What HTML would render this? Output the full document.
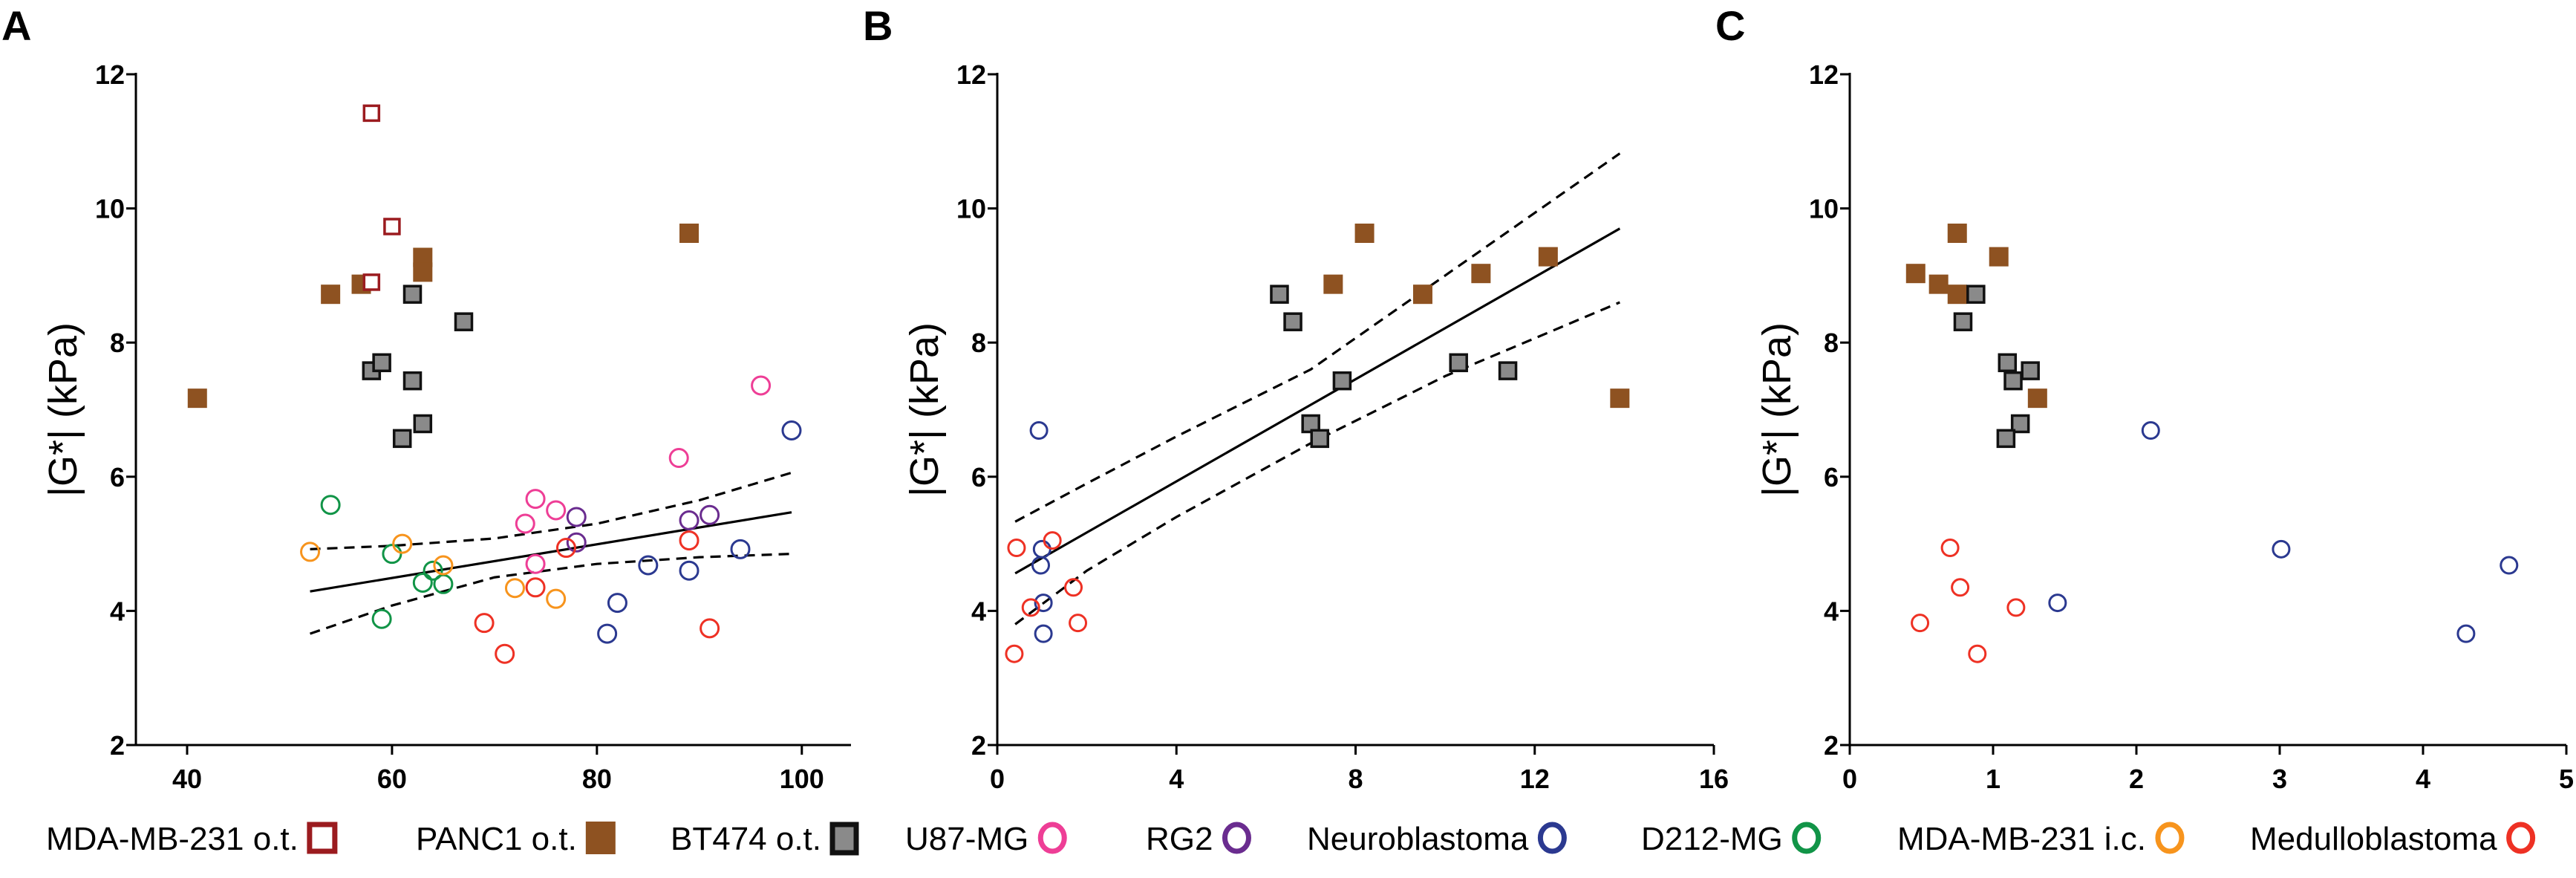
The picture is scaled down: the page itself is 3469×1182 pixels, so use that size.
<!DOCTYPE html>
<html><head><meta charset="utf-8"><style>
html,body{margin:0;padding:0;background:#fff;}
svg{display:block;font-family:"Liberation Sans",Arial,sans-serif;}
</style></head><body>
<svg id="fig" width="3469" height="1182" viewBox="0 0 3469 1182" xmlns="http://www.w3.org/2000/svg"></svg>
<script>
// ---------- data ----------
const seriesNames = ["MDA-MB-231 o.t.","PANC1 o.t.","BT474 o.t.","U87-MG","RG2","Neuroblastoma","D212-MG","MDA-MB-231 i.c.","Medulloblastoma"];
// Panel A (x: 35-105)
const aMdaOtX=[58,60,58]; const aMdaOtY=[11.42,9.73,8.9];
const aPancX=[41,54,57,63,63,89]; const aPancY=[7.17,8.72,8.87,9.27,9.05,9.63];
const aBtX=[62,67,58,59,62,61,63]; const aBtY=[8.72,8.31,7.58,7.7,7.43,6.57,6.79];
const aU87X=[73,74,76,74,88,96]; const aU87Y=[5.3,5.67,5.5,4.7,6.28,7.36];
const aRg2X=[78,78,89,91]; const aRg2Y=[5.4,5.02,5.35,5.43];
const aNeuX=[85,89,82,81,94,99]; const aNeuY=[4.68,4.6,4.12,3.66,4.92,6.69];
const aD212X=[54,60,64,63,65,59]; const aD212Y=[5.58,4.85,4.6,4.42,4.4,3.88];
const aMdaIcX=[52,61,65,72,76]; const aMdaIcY=[4.88,5.0,4.68,4.34,4.18];
const aMedX=[77,74,69,71,89,91]; const aMedY=[4.94,4.35,3.82,3.36,5.05,3.74];
const aFitX=[52,99]; const aFitY=[4.29,5.47];
const aCiX=[52,60,70,80,90,99]; const aCiUp=[4.92,4.97,5.08,5.3,5.65,6.06]; const aCiLo=[3.66,4.08,4.5,4.7,4.8,4.85];
// Panel B (x: 0-16)
const bPancX=[8.2,7.5,9.5,10.8,12.3,13.9]; const bPancY=[9.63,8.87,8.72,9.03,9.28,7.17];
const bBtX=[6.3,6.6,7.7,7.0,7.2,10.3,11.4]; const bBtY=[8.72,8.31,7.43,6.79,6.57,7.7,7.58];
const bNeuX=[0.93,1.0,0.97,1.03,1.03]; const bNeuY=[6.69,4.92,4.68,4.12,3.66];
const bMedX=[0.43,1.23,0.75,1.7,1.8,0.38]; const bMedY=[4.94,5.05,4.05,4.35,3.82,3.36];
const bFitX=[0.4,13.9]; const bFitY=[4.56,9.7];
const bCiX=[0.4,2,4,7,10,13.9]; const bCiUp=[5.33,5.9,6.6,7.6,9.0,10.82]; const bCiLo=[3.8,4.6,5.4,6.5,7.5,8.6];
// Panel C (x: 0-5)
const cPancX=[0.46,0.62,0.75,0.75,1.04,1.31]; const cPancY=[9.03,8.87,9.63,8.72,9.28,7.17];
const cBtX=[0.88,0.79,1.1,1.26,1.14,1.19,1.09]; const cBtY=[8.72,8.31,7.7,7.58,7.43,6.79,6.57];
const cNeuX=[2.1,3.01,4.6,1.45,4.3]; const cNeuY=[6.69,4.92,4.68,4.12,3.66];
const cMedX=[0.7,0.77,0.49,1.16,0.89]; const cMedY=[4.94,4.35,3.82,4.05,3.36];
const yTicks=[2,4,6,8,10,12];
const aTicks=[40,60,80,100]; const bTicks=[0,4,8,12,16]; const cTicks=[0,1,2,3,4,5];

// ---------- drawing ----------
const NS="http://www.w3.org/2000/svg";
const svg=document.getElementById('fig');
function mk(tag,attrs,parent){const e=document.createElementNS(NS,tag);for(const k in attrs)e.setAttribute(k,attrs[k]);(parent||svg).appendChild(e);return e;}
const COL={mdaot:"#9b1b1f",panc:"#8e5221",bt:"#8a8a8a",u87:"#ee3e96",rg2:"#6a2c8f",neu:"#2b3990",d212:"#119447",mdaic:"#f7941d",med:"#ee3124"};
const Y0=100,Y1=1003;
function makePanel(id,letter,left,right,xmin,xmax,ticks){
  const g=mk('g',{});
  
  
  const sx=v=>left+(v-xmin)/(xmax-xmin)*(right-left);
  const sy=v=>Y1-(v-2)/10*(Y1-Y0);
  const L=mk('text',{x:left-183+2,y:54,'font-size':56,'font-weight':'bold'},g);L.textContent=letter;
  
  
  const ya=mk('line',{x1:left,y1:Y0-2,x2:left,y2:Y1+1.5,stroke:'#000','stroke-width':3},g);
  
  
  const xa=mk('line',{x1:left-1.5,y1:Y1,x2:right,y2:Y1,stroke:'#000','stroke-width':3},g);
  
  
  yTicks.forEach(t=>{
    mk('line',{x1:left-13,y1:sy(t),x2:left,y2:sy(t),stroke:'#000','stroke-width':3},g);
    const tx=mk('text',{x:left-15,y:sy(t)+13,'font-size':36,'font-weight':'bold','text-anchor':'end'},g);tx.textContent=t;
    
    
  });
  ticks.forEach(t=>{
    mk('line',{x1:sx(t),y1:Y1,x2:sx(t),y2:Y1+13,stroke:'#000','stroke-width':3},g);
    const tx=mk('text',{x:sx(t),y:Y1+58,'font-size':36,'font-weight':'bold','text-anchor':'middle'},g);tx.textContent=t;
    
    
  });
  const yt=mk('text',{x:0,y:0,'font-size':54,'text-anchor':'middle',transform:`translate(${left-80},${(Y0+Y1)/2}) rotate(-90)`},g);yt.textContent="|G*| (kPa)";
  
  
  return {g,sx,sy};
}
function lineXY(p,xs,ys,dash,name){
  const d=xs.map((x,i)=>(i?'L':'M')+p.sx(x)+','+p.sy(ys[i])).join(' ');
  const e=mk('path',{d,fill:'none',stroke:'#000','stroke-width':3.2,'stroke-dasharray':dash?'14,9':'none'},p.g);
  
  
}
function sq(p,xs,ys,kind,name){
  xs.forEach((x,i)=>{
    const cx=p.sx(x),cy=p.sy(ys[i]);let e;
    if(kind==='mdaot') e=mk('rect',{x:cx-10,y:cy-10,width:20,height:20,fill:'#fff',stroke:COL.mdaot,'stroke-width':3.5},p.g);
    else if(kind==='panc') e=mk('rect',{x:cx-13,y:cy-13,width:26,height:26,fill:COL.panc},p.g);
    else e=mk('rect',{x:cx-11,y:cy-11,width:22,height:22,fill:COL.bt,stroke:'#111','stroke-width':3.5},p.g);
    
    
  });
}
function circ(p,xs,ys,col,name,r){
  xs.forEach((x,i)=>{
    const e=mk('circle',{cx:p.sx(x),cy:p.sy(ys[i]),r:r,fill:'none',stroke:col,'stroke-width':3},p.g);
    
    
  });
}
// Panel A
const A=makePanel('a','A',183,1146,35,104.8,aTicks);
lineXY(A,aFitX,aFitY,false,'regression-line-a');
lineXY(A,aCiX,aCiUp,true,'ci-upper-a');
lineXY(A,aCiX,aCiLo,true,'ci-lower-a');
sq(A,aPancX,aPancY,'panc','point-panc1');
sq(A,aBtX,aBtY,'bt','point-bt474');
sq(A,aMdaOtX,aMdaOtY,'mdaot','point-mda-ot');
circ(A,aU87X,aU87Y,COL.u87,'point-u87',12);
circ(A,aRg2X,aRg2Y,COL.rg2,'point-rg2',12);
circ(A,aNeuX,aNeuY,COL.neu,'point-neuroblastoma',12);
circ(A,aD212X,aD212Y,COL.d212,'point-d212',12);
circ(A,aMdaIcX,aMdaIcY,COL.mdaic,'point-mda-ic',12);
circ(A,aMedX,aMedY,COL.med,'point-medulloblastoma',12);
// Panel B
const B=makePanel('b','B',1343,2308,0,16,bTicks);
lineXY(B,bFitX,bFitY,false,'regression-line-b');
lineXY(B,bCiX,bCiUp,true,'ci-upper-b');
lineXY(B,bCiX,bCiLo,true,'ci-lower-b');
sq(B,bPancX,bPancY,'panc','point-panc1');
sq(B,bBtX,bBtY,'bt','point-bt474');
circ(B,bNeuX,bNeuY,COL.neu,'point-neuroblastoma',11);
circ(B,bMedX,bMedY,COL.med,'point-medulloblastoma',11);
// Panel C
const C=makePanel('c','C',2491,3456,0,5,cTicks);
sq(C,cPancX,cPancY,'panc','point-panc1');
sq(C,cBtX,cBtY,'bt','point-bt474');
circ(C,cNeuX,cNeuY,COL.neu,'point-neuroblastoma',11);
circ(C,cMedX,cMedY,COL.med,'point-medulloblastoma',11);
// Legend
const legX=[62,560,903,1219,1543,1760,2210,2555,3030];
const legKinds=['mdaot','panc','bt','u87','rg2','neu','d212','mdaic','med'];
const LY=1128;
const lg=mk('g',{});


seriesNames.forEach((n,i)=>{
  const ent=mk('g',{},lg);
  
  
  const t=mk('text',{x:legX[i],y:LY+16},ent);
  t.setAttribute('font-size','44');
  t.textContent=n;
  const w=t.getComputedTextLength();
  const mx=legX[i]+w+12; const k=legKinds[i];
  if(k==='mdaot') mk('rect',{x:mx+3,y:LY-18,width:34,height:36,fill:'#fff',stroke:COL.mdaot,'stroke-width':7},ent);
  else if(k==='panc') mk('rect',{x:mx,y:LY-22,width:40,height:44,fill:COL.panc},ent);
  else if(k==='bt') mk('rect',{x:mx+3,y:LY-18,width:32,height:38,fill:COL.bt,stroke:'#111','stroke-width':7},ent);
  else mk('ellipse',{cx:mx+20,cy:LY,rx:16,ry:18,fill:'none',stroke:COL[k],'stroke-width':7},ent);
});
</script>
</body></html>
